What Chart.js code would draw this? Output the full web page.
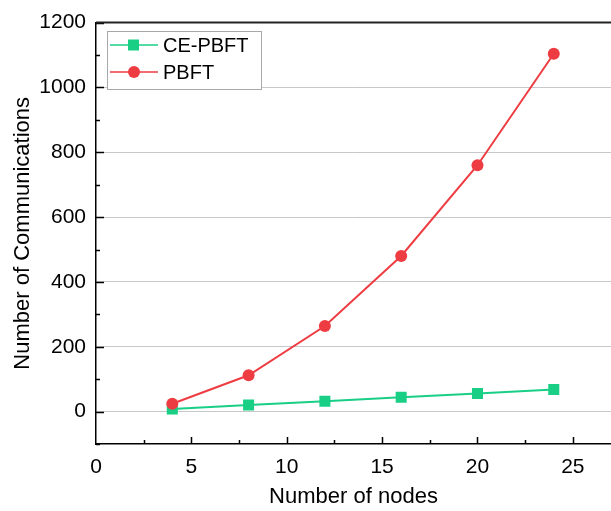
<!DOCTYPE html>
<html>
<head>
<meta charset="utf-8">
<script src="https://cdn.jsdelivr.net/npm/chart.js@4"></script>
<style>
  body { margin: 0; overflow: hidden; background: #fff; }
  .wrap { width: 611px; height: 511px; position: relative; }
</style>
</head>
<body>
<div class="wrap"><canvas id="commChart"></canvas></div>
<script>
// chart data
const nodes = [4, 8, 12, 16, 20, 24];
const cePbft = [8, 20, 32, 44, 56, 68];
const pbft = [24, 112, 264, 480, 760, 1104];
const xTicks = [0, 5, 10, 15, 20, 25];
const yTicks = [0, 200, 400, 600, 800, 1000, 1200];

const green = "#19cf86";
const red = "#ee3d42";
const font = "'Liberation Sans', Arial, sans-serif";

// inward tick marks, top border and the boxed legend
const framePlugin = {
  id: "frame",
  afterDraw(chart) {
    const { ctx, chartArea: a, scales } = chart;
    const x = scales.x;
    const y = scales.y;
    ctx.save();
    ctx.strokeStyle = "#000";
    ctx.lineWidth = 1.5;
    ctx.beginPath();
    for (let v = -100; v <= 1200; v += 100) {
      const py = Math.round(y.getPixelForValue(v)) + 0.5;
      const len = v % 200 === 0 ? 8 : 4;
      ctx.moveTo(a.left, py);
      ctx.lineTo(a.left + len, py);
    }
    for (let v = 2.5; v < x.max; v += 2.5) {
      const px = Math.round(x.getPixelForValue(v)) + 0.5;
      const len = v % 5 === 0 ? 7 : 4;
      ctx.moveTo(px, a.bottom);
      ctx.lineTo(px, a.bottom - len);
    }
    ctx.stroke();

    // top border
    ctx.strokeStyle = "#222";
    ctx.lineWidth = 2;
    ctx.beginPath();
    ctx.moveTo(a.left, a.top);
    ctx.lineTo(chart.width, a.top);
    ctx.stroke();

    // legend
    ctx.fillStyle = "#fff";
    ctx.fillRect(107, 31, 154, 58);
    ctx.strokeStyle = "#a8a8a8";
    ctx.lineWidth = 1;
    ctx.strokeRect(107.5, 31.5, 154, 58);
    const rows = [
      { label: "CE-PBFT", color: green, square: true, y: 45 },
      { label: "PBFT", color: red, square: false, y: 72 },
    ];
    rows.forEach((r) => {
      ctx.strokeStyle = r.color;
      ctx.lineWidth = 1.5;
      ctx.beginPath();
      ctx.moveTo(110, r.y);
      ctx.lineTo(158, r.y);
      ctx.stroke();
      ctx.fillStyle = r.color;
      if (r.square) {
        ctx.fillRect(128, r.y - 5.5, 11, 11);
      } else {
        ctx.beginPath();
        ctx.arc(134, r.y, 6, 0, Math.PI * 2);
        ctx.fill();
      }
      ctx.fillStyle = "#000";
      ctx.font = "20px " + font;
      ctx.textBaseline = "middle";
      ctx.fillText(r.label, 163, r.y + 1);
    });
    ctx.restore();
  },
};

new Chart(document.getElementById("commChart"), {
  type: "line",
  data: {
    labels: nodes,
    datasets: [
      {
        label: "CE-PBFT",
        data: nodes.map((n, i) => ({ x: n, y: cePbft[i] })),
        borderColor: green,
        backgroundColor: green,
        borderWidth: 2,
        pointStyle: "rect",
        pointRadius: 7.8,
        pointBorderWidth: 0,
        order: 1,
      },
      {
        label: "PBFT",
        data: nodes.map((n, i) => ({ x: n, y: pbft[i] })),
        borderColor: red,
        backgroundColor: red,
        borderWidth: 2,
        pointStyle: "circle",
        pointRadius: 6,
        pointBorderWidth: 0,
        order: 0,
      },
    ],
  },
  options: {
    responsive: true,
    maintainAspectRatio: false,
    animation: false,
    layout: { autoPadding: false, padding: { top: 22, right: 0, left: 0, bottom: 0 } },
    plugins: { legend: { display: false }, tooltip: { enabled: false } },
    scales: {
      x: {
        type: "linear",
        min: 0,
        max: 27,
        afterBuildTicks: (s) => { s.ticks = xTicks.map((v) => ({ value: v })); },
        afterFit: (s) => {
          s.height = 67;
          s.paddingRight = 0;
          s.paddingLeft = 0;
        },
        grid: { display: false, drawTicks: false },
        border: { color: "#000", width: 1.5 },
        ticks: {
          padding: 11,
          color: "#000",
          font: { family: font, size: 21 },
          callback: (v) => String(v),
        },
        title: {
          display: true,
          text: "Number of nodes",
          color: "#000",
          font: { family: font, size: 22 },
          padding: { bottom: 1, top: 0 },
        },
      },
      y: {
        min: -100,
        max: 1200,
        afterBuildTicks: (s) => { s.ticks = yTicks.map((v) => ({ value: v })); },
        afterFit: (s) => { s.width = 96; },
        grid: {
          drawTicks: false,
          color: (c) => (c.tick && c.tick.value < 1200 ? "#c8c8c8" : "rgba(0,0,0,0)"),
          lineWidth: 1,
        },
        border: { color: "#000", width: 1.5 },
        ticks: {
          padding: 10,
          color: "#000",
          font: { family: font, size: 21 },
          callback: (v) => String(v),
        },
        title: {
          display: true,
          text: "Number of Communications",
          color: "#000",
          font: { family: font, size: 22 },
          padding: { top: 10, bottom: 0 },
        },
      },
    },
  },
  plugins: [framePlugin],
});
</script>
</body>
</html>
